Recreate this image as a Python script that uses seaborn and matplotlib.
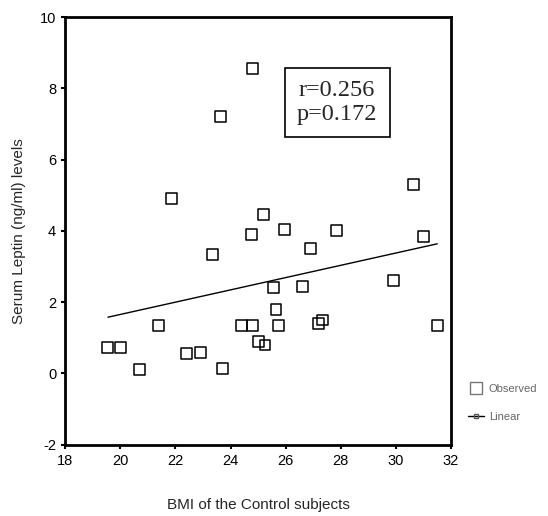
import numpy as np
import matplotlib
matplotlib.use("Agg")
import matplotlib.pyplot as plt
from matplotlib.lines import Line2D
import seaborn as sns

# BMI and serum leptin of the control subjects
bmi = [19.55, 20.0, 20.7, 21.4, 22.4, 22.9, 23.7, 24.4, 24.8, 25.0,
       25.25, 25.55, 25.65, 25.75, 26.6, 27.2, 27.35, 29.9, 31.5, 23.35,
       24.75, 25.95, 27.85, 26.9, 31.0, 24.8, 23.65, 21.85, 25.2, 30.65]
leptin = [0.72, 0.73, 0.1, 1.35, 0.55, 0.6, 0.15, 1.35, 1.35, 0.9,
          0.8, 2.4, 1.8, 1.35, 2.45, 1.4, 1.5, 2.6, 1.35, 3.35,
          3.9, 4.05, 4.0, 3.5, 3.85, 8.55, 7.2, 4.9, 4.45, 5.3]

x_ticks = [18, 20, 22, 24, 26, 28, 30, 32]
y_ticks = [-2, 0, 2, 4, 6, 8, 10]
stats_text = "r=0.256\np=0.172"

sns.set_style("ticks")
plt.rcParams['font.family'] = ['Liberation Sans', 'DejaVu Sans']
plt.rcParams['axes.unicode_minus'] = False

fig = plt.figure(figsize=(5.48, 5.16), dpi=100)
ax = fig.add_axes([0.119, 0.138, 0.704, 0.829])

sns.regplot(x=bmi, y=leptin, ax=ax, ci=None, truncate=True, marker='s',
            scatter_kws=dict(facecolors='none', edgecolors='black', s=62,
                             linewidths=1.1, alpha=1, color='black'),
            line_kws=dict(color='black', lw=1.0))

ax.set_xlim(18, 32)
ax.set_ylim(-2, 10)
ax.set_xticks(x_ticks)
ax.set_yticks(y_ticks)
ax.tick_params(direction='out', length=3, width=1.5, labelsize=10.5, colors='black')
for sp in ax.spines.values():
    sp.set_visible(True)
    sp.set_linewidth(2.0)
    sp.set_color('black')

ax.set_xlabel("BMI of the Control subjects", fontsize=11, labelpad=22)
ax.set_ylabel("Serum Leptin (ng/ml) levels", fontsize=11, labelpad=10)

ax.text(0.705, 0.80, stats_text, transform=ax.transAxes, ha='center', va='center',
        fontsize=17.5, family='Liberation Serif', linespacing=1.2,
        bbox=dict(boxstyle='square,pad=0.5', facecolor='white', edgecolor='black', lw=1.2))

handles = [
    Line2D([], [], ls='none', marker='s', markersize=8, mfc='none', mec='#777777', mew=1),
    Line2D([], [], color='black', lw=1, marker='s', markersize=3, mfc='none', mec='#555555'),
]
fig.legend(handles, ["Observed", "Linear"], loc='upper left', bbox_to_anchor=(0.835, 0.275),
           frameon=False, fontsize=8, labelcolor='#666666', handlelength=1.5,
           handletextpad=0.4, labelspacing=1.6)

fig.savefig("out.png", dpi=100)
